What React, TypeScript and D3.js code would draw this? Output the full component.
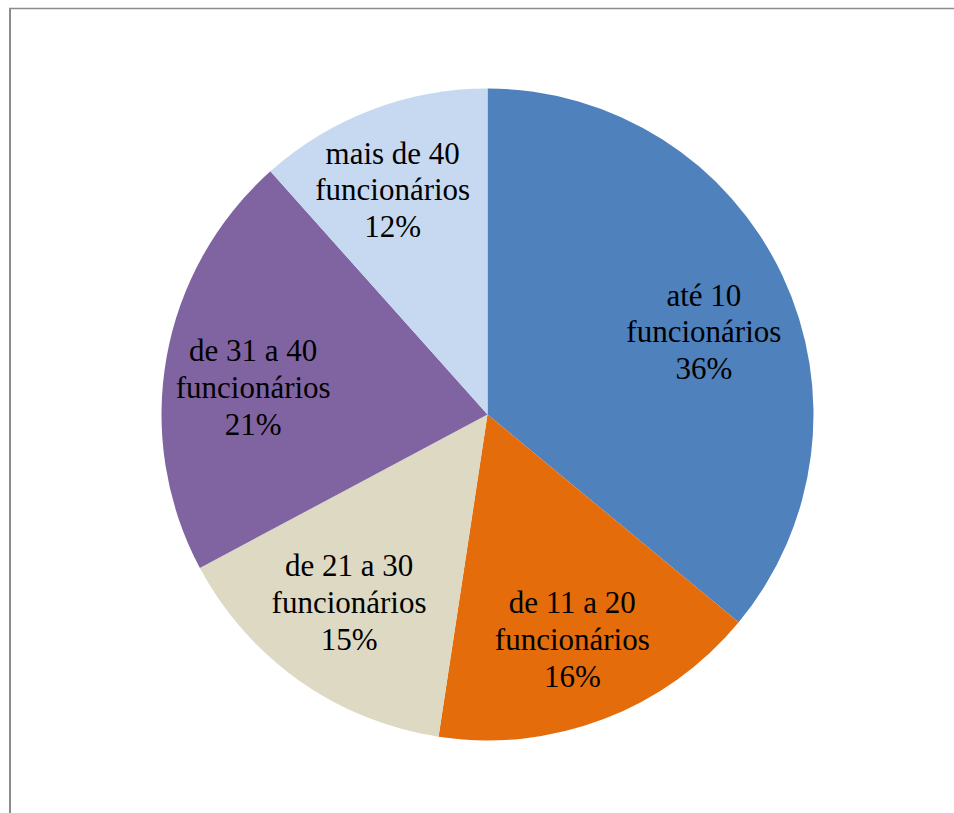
import React from "react";
import * as d3 from "d3";

const categories: string[] = [
  "até 10 funcionários",
  "de 11 a 20 funcionários",
  "de 21 a 30 funcionários",
  "de 31 a 40 funcionários",
  "mais de 40 funcionários",
];
const labelLine1: string[] = ["até 10", "de 11 a 20", "de 21 a 30", "de 31 a 40", "mais de 40"];
const values: number[] = [36.0, 16.4, 14.8, 21.2, 11.6];
const percentLabels: string[] = ["36%", "16%", "15%", "21%", "12%"];
const colors: string[] = ["#4F81BD", "#E46C0A", "#DDD9C3", "#8064A2", "#C6D9F1"];

// layout: small label nudges (px) applied after the arc centroid
const labelNudgeX: number[] = [1, 0, -1, 0, -10];
const labelNudgeY: number[] = [19, 3, -6, 15, -2];

const W = 954;
const H = 813;
const CX = 487.5;
const CY = 414.5;
const R = 326;
const LABEL_R = 238;
const LINE_H = 36.8;
const FONT = 31;

export default function App() {
  const pie = d3.pie<number>().sort(null).value((d) => d);
  const arcs = pie(values);
  const arcGen = d3.arc<d3.PieArcDatum<number>>().innerRadius(0).outerRadius(R);
  const labelArc = d3.arc<d3.PieArcDatum<number>>().innerRadius(LABEL_R).outerRadius(LABEL_R);

  return (
    <svg
      width={W}
      height={H}
      style={{ position: "absolute", left: 0, top: 0, background: "#fff" }}
    >
      <line x1={9} y1={8.5} x2={W} y2={8.5} stroke="#8c8c8c" strokeWidth={1.5} />
      <line x1={10} y1={8} x2={10} y2={H} stroke="#8c8c8c" strokeWidth={2} />
      <g transform={`translate(${CX},${CY})`}>
        {arcs.map((a, i) => (
          <path key={categories[i]} d={arcGen(a) || ""} fill={colors[i]} />
        ))}
        {arcs.map((a, i) => {
          const [cx, cy] = labelArc.centroid(a);
          const lx = cx + labelNudgeX[i];
          const ly = cy + labelNudgeY[i];
          const lines = [labelLine1[i], "funcionários", percentLabels[i]];
          return (
            <text
              key={"l" + i}
              x={lx}
              y={ly}
              textAnchor="middle"
              fontFamily="'Liberation Serif', 'Times New Roman', serif"
              fontSize={FONT}
              fill="#000"
            >
              {lines.map((t, j) => (
                <tspan key={j} x={lx} y={ly + (j - 1) * LINE_H} dy="0.33em">
                  {t}
                </tspan>
              ))}
            </text>
          );
        })}
      </g>
    </svg>
  );
}
